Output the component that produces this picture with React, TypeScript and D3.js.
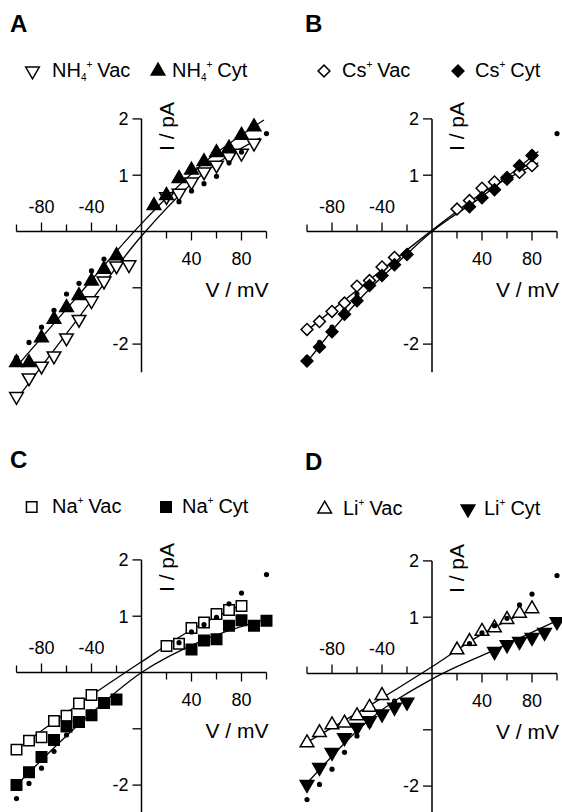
import React from 'react';
import * as d3 from 'd3';

const FONT = '"Liberation Sans", Arial, Helvetica, sans-serif';

// control recording (small dots), same set in every panel
const ctrlV = [-100, -90, -80, -70, -60, -50, -40, -30, 30, 40, 50, 60, 70, 80, 100];
const ctrlI = [-2.24, -1.97, -1.7, -1.4, -1.11, -0.92, -0.7, -0.49, 0.53, 0.72, 0.85, 0.98, 1.22, 1.41, 1.74];

// A: NH4+
const nh4VacV = [-100, -90, -80, -70, -60, -50, -40, -30, -20, -10, 20, 30, 40, 50, 60, 70, 80, 90];
const nh4VacI = [-2.93, -2.6, -2.39, -2.21, -1.89, -1.56, -1.23, -0.88, -0.61, -0.59, 0.62, 0.68, 0.88, 1.06, 1.18, 1.33, 1.39, 1.57];
const nh4CytV = [-100, -90, -80, -70, -60, -50, -40, -30, -20, 10, 20, 30, 40, 50, 60, 70, 80, 90];
const nh4CytI = [-2.33, -2.33, -1.89, -1.56, -1.35, -1.14, -0.88, -0.67, -0.43, 0.46, 0.64, 0.94, 1.09, 1.24, 1.4, 1.48, 1.71, 1.86];
const nh4VacFitV = [-100, -50, 0, 50, 95];
const nh4VacFitI = [-2.98, -1.52, -0.08, 1.04, 1.66];
const nh4CytFitV = [-100, -50, 0, 50, 98];
const nh4CytFitI = [-2.4, -1.12, 0.14, 1.22, 1.98];

// B: Cs+
const csVacV = [-100, -90, -80, -70, -60, -50, -40, -30, 20, 30, 40, 50, 60, 70, 80];
const csVacI = [-1.74, -1.6, -1.42, -1.27, -0.97, -0.87, -0.63, -0.46, 0.4, 0.55, 0.77, 0.88, 0.93, 1.05, 1.17];
const csCytV = [-100, -90, -80, -70, -60, -50, -40, -30, -20, 30, 40, 50, 60, 70, 80];
const csCytI = [-2.3, -2.05, -1.78, -1.47, -1.23, -0.96, -0.78, -0.59, -0.41, 0.44, 0.6, 0.74, 0.96, 1.17, 1.35];
const csVacFitV = [-100, -50, 0, 40, 85];
const csVacFitI = [-1.76, -0.86, 0.02, 0.68, 1.22];
const csCytFitV = [-100, -75, -50, -25, 0, 40, 85];
const csCytFitI = [-2.32, -1.63, -1.02, -0.5, 0, 0.62, 1.42];

// C: Na+
const naVacV = [-100, -90, -80, -70, -60, -50, -40, 20, 30, 40, 50, 60, 70, 80];
const naVacI = [-1.37, -1.21, -1.15, -0.86, -0.77, -0.55, -0.4, 0.47, 0.51, 0.79, 0.89, 1.04, 1.11, 1.18];
const naCytV = [-100, -90, -80, -70, -60, -50, -40, -30, -20, 40, 50, 60, 70, 80, 90, 100];
const naCytI = [-2.0, -1.77, -1.5, -1.2, -0.96, -0.88, -0.76, -0.54, -0.48, 0.41, 0.57, 0.59, 0.83, 0.93, 0.83, 0.92];
const naVacFitV = [-100, -50, 0, 40, 80];
const naVacFitI = [-1.36, -0.56, 0.19, 0.76, 1.2];
const naCytFitV = [-100, -50, 0, 50, 100];
const naCytFitI = [-2.0, -0.92, 0.0, 0.58, 0.95];

// D: Li+
const liVacV = [-100, -90, -80, -70, -60, -50, -40, 20, 30, 40, 50, 60, 70, 80];
const liVacI = [-1.23, -1.05, -0.91, -0.88, -0.75, -0.6, -0.39, 0.42, 0.57, 0.75, 0.81, 0.96, 1.07, 1.15];
const liCytV = [-100, -90, -80, -70, -60, -50, -40, -30, -20, 50, 60, 70, 80, 90, 100];
const liCytI = [-1.97, -1.67, -1.4, -1.14, -0.96, -0.84, -0.72, -0.6, -0.51, 0.39, 0.51, 0.57, 0.64, 0.73, 0.92];
const liVacFitV = [-100, -50, 0, 40, 82];
const liVacFitI = [-1.22, -0.57, 0.12, 0.7, 1.16];
const liCytFitV = [-100, -50, 0, 50, 100];
const liCytFitI = [-1.95, -0.82, -0.1, 0.42, 0.94];

// axes
const xMajor = [-80, -40, 40, 80];
const xMajorLabels = ['-80', '-40', '40', '80'];
const xMinor = [-100, -60, -20, 20, 60, 100];
const yTicks = [2, 1, -1, -2];
const yTickLabels = ['2', '1', '', '-2'];

const zip = (a, b) => a.map((v, i) => [v, b[i]]);

const markerShape = (kind) => {
  if (kind === 'triUp') return { d: d3.symbol().type(d3.symbolTriangle).size(80)(), rot: 0 };
  if (kind === 'triDown') return { d: d3.symbol().type(d3.symbolTriangle).size(80)(), rot: 180 };
  if (kind === 'diamond') return { d: d3.symbol().type(d3.symbolSquare).size(70)(), rot: 45 };
  return { d: d3.symbol().type(d3.symbolSquare).size(110)(), rot: 0 };
};

const Marker = ({ kind, filled, cx, cy }) => {
  const s = markerShape(kind);
  return (
    <path
      d={s.d}
      transform={`translate(${cx},${cy}) rotate(${s.rot})`}
      fill={filled ? '#000' : '#fff'}
      stroke="#000"
      strokeWidth={1.5}
    />
  );
};

const panels = [
  {
    letter: 'A', x0: 141.5, y0: 231.5, letterPos: [10, 32], legendY: 77,
    ion: 'NH', sub: '4', marker: ['triDown', 'triUp'], dotsOnTop: true,
    legendX: [[32.5, 52], [158, 172]],
    vac: zip(nh4VacV, nh4VacI), cyt: zip(nh4CytV, nh4CytI),
    fits: [zip(nh4VacFitV, nh4VacFitI), zip(nh4CytFitV, nh4CytFitI)],
  },
  {
    letter: 'B', x0: 432, y0: 231.5, letterPos: [305, 32], legendY: 77,
    ion: 'Cs', sub: '', marker: ['diamond', 'diamond'], dotsOnTop: false,
    legendX: [[324, 342], [458, 475]],
    vac: zip(csVacV, csVacI), cyt: zip(csCytV, csCytI),
    fits: [zip(csVacFitV, csVacFitI), zip(csCytFitV, csCytFitI)],
  },
  {
    letter: 'C', x0: 141.5, y0: 672.5, letterPos: [10, 468], legendY: 513,
    ion: 'Na', sub: '', marker: ['square', 'square'], dotsOnTop: true,
    legendX: [[31.7, 52], [166, 182]],
    vac: zip(naVacV, naVacI), cyt: zip(naCytV, naCytI),
    fits: [zip(naVacFitV, naVacFitI), zip(naCytFitV, naCytFitI)],
  },
  {
    letter: 'D', x0: 432, y0: 673.5, letterPos: [305, 470], legendY: 515,
    ion: 'Li', sub: '', marker: ['triUp', 'triDown'], dotsOnTop: true,
    legendX: [[324.7, 343], [468, 484]],
    vac: zip(liVacV, liVacI), cyt: zip(liCytV, liCytI),
    fits: [zip(liVacFitV, liVacFitI), zip(liCytFitV, liCytFitI)],
  },
];

const ctrl = zip(ctrlV, ctrlI);

const Panel = ({ p }) => {
  const x = d3.scaleLinear().domain([-100, 100]).range([p.x0 - 125, p.x0 + 125]);
  const y = d3.scaleLinear().domain([-2.5, 2]).range([p.y0 + 2.5 * 56.3, p.y0 - 2 * 56.3]);
  const line = d3.line().x(d => x(d[0])).y(d => y(d[1])).curve(d3.curveMonotoneX);

  const dots = ctrl.map((d, i) => (
    <circle key={'c' + i} cx={x(d[0])} cy={y(d[1])} r={2.6} fill="#000" />
  ));

  const legendText = (tx, label) => (
    <text x={tx} y={p.legendY} fontSize={20}>
      <tspan>{p.ion}</tspan>
      {p.sub ? <tspan fontSize={10} dy={4}>{p.sub}</tspan> : null}
      <tspan fontSize={10} dy={p.sub ? -13 : -9}>+</tspan>
      <tspan dx={5} dy={9}>{label}</tspan>
    </text>
  );

  return (
    <g fontFamily={FONT} fill="#000">
      <text x={p.letterPos[0]} y={p.letterPos[1]} fontSize={24} fontWeight="bold">{p.letter}</text>

      {/* legend */}
      <Marker kind={p.marker[0]} filled={false} cx={p.legendX[0][0]} cy={p.legendY - 6} />
      {legendText(p.legendX[0][1], 'Vac')}
      <Marker kind={p.marker[1]} filled={true} cx={p.legendX[1][0]} cy={p.legendY - 6} />
      {legendText(p.legendX[1][1], 'Cyt')}

      {/* x axis */}
      <line x1={x(-100)} x2={x(100)} y1={y(0)} y2={y(0)} stroke="#000" strokeWidth={1.5} />
      {xMajor.concat(xMinor).map(v => (
        <line key={'xt' + v} x1={x(v)} x2={x(v)} y1={y(0)}
          y2={y(0) + (v < 0 ? -1 : 1) * (xMajor.includes(v) ? 9 : 7)}
          stroke="#000" strokeWidth={1.3} />
      ))}
      {xMajor.map((v, i) => (
        <text key={'xl' + v} x={x(v)} y={v < 0 ? y(0) - 19 : y(0) + 33.5}
          textAnchor="middle" fontSize={18}>{xMajorLabels[i]}</text>
      ))}
      <text x={p.x0 + 127} y={p.y0 + 65.5} textAnchor="end" fontSize={21}>V / mV</text>

      {/* y axis */}
      <line x1={x(0)} x2={x(0)} y1={y(2)} y2={y(-2.5)} stroke="#000" strokeWidth={1.5} />
      {yTicks.map((v, i) => (
        <g key={'yt' + v}>
          <line x1={x(0) - 9} x2={x(0)} y1={y(v)} y2={y(v)} stroke="#000" strokeWidth={1.3} />
          <text x={x(0) - 13} y={y(v)} dy="0.35em" textAnchor="end" fontSize={18}>{yTickLabels[i]}</text>
        </g>
      ))}
      <text transform={`translate(${p.x0 + 32},${p.y0 - 105}) rotate(-90)`} textAnchor="middle" fontSize={21}>I / pA</text>

      {/* fitted curves */}
      {p.fits.map((f, i) => (
        <path key={'f' + i} d={line(f)} fill="none" stroke="#000" strokeWidth={1.3} />
      ))}

      {!p.dotsOnTop && dots}
      {p.vac.map((d, i) => (
        <Marker key={'v' + i} kind={p.marker[0]} filled={false} cx={x(d[0])} cy={y(d[1])} />
      ))}
      {p.cyt.map((d, i) => (
        <Marker key={'y' + i} kind={p.marker[1]} filled={true} cx={x(d[0])} cy={y(d[1])} />
      ))}
      {p.dotsOnTop && dots}
    </g>
  );
};

export default function App() {
  return (
    <div style={{ position: 'absolute', left: 0, top: 0 }}>
      <svg width={562} height={812} style={{ display: 'block', background: '#fff' }}>
        <rect width={562} height={812} fill="#fff" />
        {panels.map(p => <Panel key={p.letter} p={p} />)}
      </svg>
    </div>
  );
}
